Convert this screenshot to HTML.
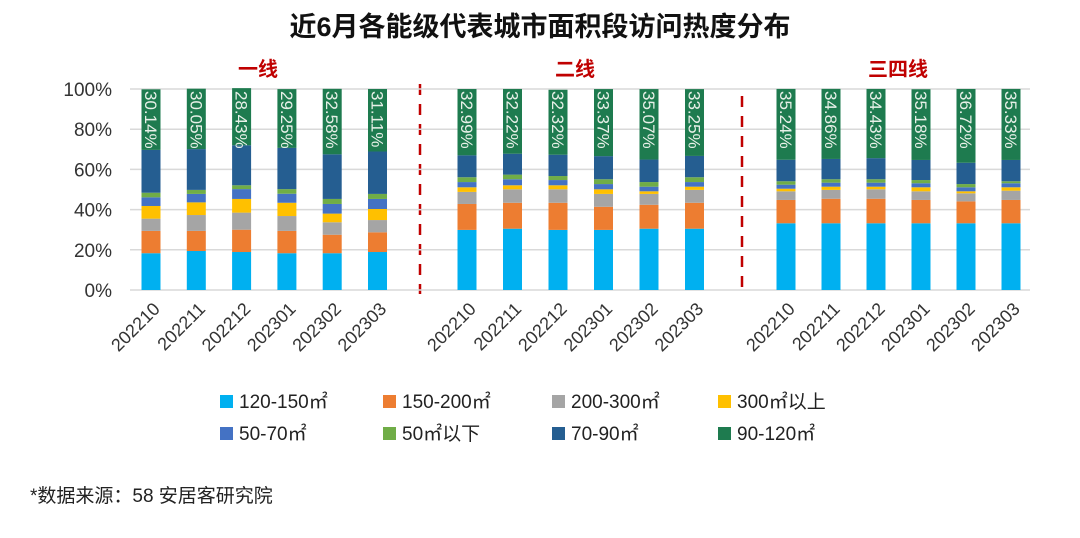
<!DOCTYPE html>
<html><head><meta charset="utf-8"><style>
body{margin:0;background:#fff;width:1080px;height:533px;overflow:hidden;font-family:"Liberation Sans","Noto Sans CJK SC",sans-serif}
</style></head><body>
<svg id="c" width="1080" height="533" xmlns="http://www.w3.org/2000/svg" font-family="Liberation Sans, Noto Sans CJK SC, sans-serif">
<text x="540" y="36" text-anchor="middle" font-size="27" font-weight="bold" fill="#111">近6月各能级代表城市面积段访问热度分布</text>
<text x="258" y="76" text-anchor="middle" font-size="20" font-weight="bold" fill="#c00000">一线</text>
<text x="575" y="76" text-anchor="middle" font-size="20" font-weight="bold" fill="#c00000">二线</text>
<text x="898" y="76" text-anchor="middle" font-size="20" font-weight="bold" fill="#c00000">三四线</text>
<line x1="420" y1="84" x2="420" y2="294" stroke="#c00000" stroke-width="2.5" stroke-dasharray="11,9"/>
<line x1="742" y1="96" x2="742" y2="294" stroke="#c00000" stroke-width="2.5" stroke-dasharray="11,9"/>
<g id="grid"></g><g id="bars"></g><g id="labels"></g>
<text x="30" y="502" font-size="19" fill="#222">*数据来源：58 安居客研究院</text>
</svg>
<script>
const categories=["202210","202211","202212","202301","202302","202303","202210","202211","202212","202301","202302","202303","202210","202211","202212","202301","202302","202303"];
const seriesNames=["120-150㎡","150-200㎡","200-300㎡","300㎡以上","50-70㎡","50㎡以下","70-90㎡","90-120㎡"];
const s120_150=[18.3,19.4,18.9,18.3,18.3,18.9,29.9,30.5,29.9,29.9,30.5,30.5,33.2,33.2,33.2,33.2,33.2,33.2];
const s150_200=[11.1,10.0,11.1,11.1,9.2,9.8,12.9,12.9,13.5,11.5,11.9,12.9,11.6,12.2,12.2,11.6,10.9,11.6];
const s200_300=[6.1,7.9,8.5,7.4,6.2,6.1,6.0,6.7,6.7,6.4,5.4,6.4,4.3,4.4,4.7,4.3,4.0,4.6];
const s300plus=[6.3,6.3,6.8,6.6,4.3,5.5,2.3,2.0,2.0,2.3,1.3,1.6,1.3,1.6,1.3,2.0,1.0,1.7];
const s50_70=[4.3,4.2,4.9,4.5,4.8,5.0,2.6,3.0,2.6,2.6,2.3,2.3,2.0,2.0,2.0,2.0,2.0,2.0];
const s50less=[2.3,2.0,1.9,2.3,2.5,2.5,2.4,2.3,2.0,2.4,2.3,2.4,1.7,1.7,1.7,1.6,1.6,1.0];
const s70_90=[21.3,20.3,19.9,20.5,22.2,21.1,10.9,10.4,10.6,11.5,11.2,10.6,10.7,10.1,10.5,10.0,10.6,10.6];
const s90_120=[30.14,30.05,28.43,29.25,32.58,31.11,32.99,32.22,32.32,33.37,35.07,33.25,35.24,34.86,34.43,35.18,36.72,35.33];
const yTicks=[0,20,40,60,80,100];
const series=[s120_150,s150_200,s200_300,s300plus,s50_70,s50less,s70_90,s90_120];
const colors=["#00b0f0","#ed7d31","#a5a5a5","#ffc000","#4472c4","#70ad47","#255e91","#1e7b4f"];
const NS="http://www.w3.org/2000/svg";
const y0=290,y1=89;
function yPos(v){return y0-(v/100)*(y0-y1);}
function xPos(i){const g=Math.floor(i/6),k=i%6;const starts=[151,467,786];const step=[45.3,45.5,45];return starts[g]+k*step[g];}
function mk(t,a,p){const e=document.createElementNS(NS,t);for(const k in a)e.setAttribute(k,a[k]);p.appendChild(e);return e;}
const grid=document.getElementById('grid'),bars=document.getElementById('bars'),labels=document.getElementById('labels');
yTicks.forEach(t=>{
 const l=mk('line',{x1:130,x2:1030,y1:yPos(t),y2:yPos(t),stroke:'#d9d9d9','stroke-width':1.5},grid);
 
 
 const tx=mk('text',{x:112,y:yPos(t)+7,'text-anchor':'end','font-size':19,fill:'#333'},grid);
 tx.textContent=t+'%';
 
 
});
categories.forEach((c,i)=>{
 let cum=0;const x=xPos(i),w=19;
 series.forEach((s,j)=>{
  const v=s[i];
  const r=mk('rect',{x:x-w/2,y:yPos(cum+v),width:w,height:yPos(cum)-yPos(cum+v),fill:colors[j]},bars);
  
  
  cum+=v;
 });
 const ly=yPos(100)+2;
 const t=mk('text',{x:0,y:0,'font-size':17,fill:'#e8f0e8',transform:`translate(${x-6},${ly}) rotate(90)`},labels);
 t.textContent=s90_120[i].toFixed(2)+'%';
 
 
 const xl=mk('text',{x:0,y:0,'font-size':18,fill:'#333','text-anchor':'end',transform:`translate(${x+10},${310}) rotate(-45)`},labels);
 xl.textContent=c;
 
 
});
const lx=[220,383,552,718],order=[0,1,2,3,4,5,6,7];
order.forEach((j,n)=>{
 const col=n%4,row=Math.floor(n/4);
 const y=row?440:408;
 const sq=mk('rect',{x:lx[col],y:y-13,width:13,height:13,fill:colors[j]},labels);
 
 
 const t=mk('text',{x:lx[col]+19,y:y,'font-size':19,fill:'#222'},labels);
 t.textContent=seriesNames[j];
 
 
});
</script>
</body></html>
